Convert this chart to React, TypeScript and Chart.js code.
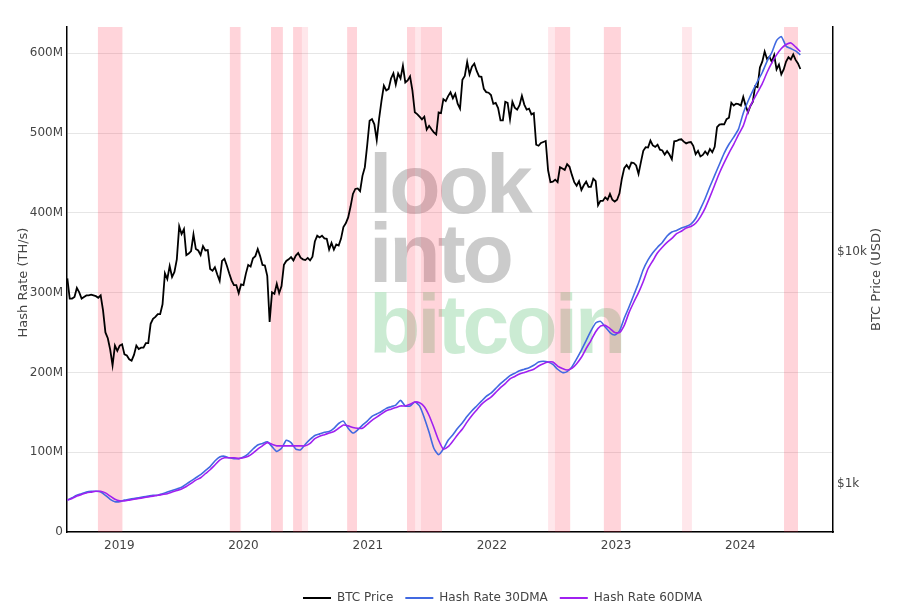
import { useEffect, useRef } from 'react';
import { Chart, registerables } from 'chart.js';

Chart.register(...registerables);

// ---------------- DATA ----------------
// BTC price (USD), weekly samples starting 2018-08-01
const priceSeriesStart = '2018-08-01';
const priceStepDays = 7;
const btcPrice: number[] = [
  // 2018 (Aug 1 .. Dec 26)
  7700, 6300, 6300, 6400, 7000, 6700, 6300, 6400, 6500, 6500, 6550, 6500, 6450, 6350, 6500, 5600, 4500, 4250, 3800, 3250, 3950, 3750,
  // 2019
  3950, 4000, 3620, 3580, 3450, 3400, 3600, 3950, 3820, 3870, 3870, 4050, 4050, 4900, 5150, 5250, 5400, 5400, 5950, 8100,
  7650, 8700, 7800, 8200, 9300, 12900, 11950, 12550, 9700, 9850, 10100, 11900, 10300, 10150, 9700, 10600, 10150, 10200, 8450, 8300,
  8600, 8000, 7500, 9150, 9350, 8750, 8100, 7550, 7200, 7200, 6650, 7250,
  // 2020
  7200, 8050, 8800, 8650, 9400, 9600, 10300, 9600, 8800, 8750, 7900, 5000, 6700, 6600, 7300, 6650, 7130, 8800, 9150, 9300,
  9500, 9200, 9650, 9900, 9450, 9300, 9230, 9430, 9200, 9540, 11100, 11750, 11550, 11750, 11450, 11400, 10250, 10950, 10250, 10780,
  10670, 11420, 12800, 13300, 14100, 15700, 17800, 18700, 18800, 18300, 21300, 23200, 28900,
  // 2021
  36800, 37400, 35500, 30400, 37600, 44800, 52100, 49700, 50500, 56000, 58900, 52700, 58800, 56000, 63500, 53800, 54900, 57200, 49600, 40000,
  39300, 38300, 37300, 38300, 33700, 35000, 33800, 32800, 32100, 40000, 39700, 45600, 44700, 47000, 48800, 46000, 48100, 43600, 41500, 55300,
  57400, 65900, 58400, 62900, 64900, 60300, 57100, 56900, 50500, 48900, 48600, 47500,
  // 2022
  43500, 43900, 41700, 36900, 36900, 44400, 43900, 37300, 44400, 41900, 41100, 42900, 47100, 43200, 41100, 41500, 39200, 39700, 29000, 28700,
  29500, 29800, 30100, 22500, 20000, 20100, 20500, 20000, 23200, 22900, 22600, 23900, 23300, 21500, 20000, 19300, 20200, 18500, 19400, 20100,
  19100, 19100, 20700, 20200, 15900, 16600, 16600, 17200, 16800, 17800, 16800, 16500,
  // 2023
  16800, 17900, 20700, 23000, 23700, 22900, 24300, 24200, 23600, 21700, 24400, 27300, 28300, 28200, 30200, 28800, 28400, 29000, 27600, 27400,
  26300, 27200, 26300, 25100, 30000, 30100, 30500, 30600, 29900, 29400, 29700, 29800, 28700, 26400, 27300, 25800, 26200, 27100, 26300, 27800,
  26900, 28400, 34500, 35400, 35600, 35500, 37400, 37900, 44000, 42800, 43600, 43400,
  // 2024 (Jan 3 .. Jun 26)
  42800, 46600, 42700, 40000, 42600, 44300, 51800, 51300, 62500, 66100, 73100, 67900, 69500, 66000, 70600, 61300, 64300, 58300, 61200, 66200,
  69100, 67600, 71100, 67300, 65000, 61500,
];

// Hash rate moving averages, in millions of TH/s, every 14 days from 2018-08-01
const hashSeriesStart = '2018-08-01';
const hashStepDays = 14;
const hashRate30DMA: number[] = [
  40, 43, 46, 48, 50, 51, 51, 50, 46, 41,
  38, 38, 40, 41, 42, 43, 44, 45, 46, 46,
  48, 50, 52, 54, 56, 60, 64, 68, 72, 77,
  82, 89, 94, 95, 93, 92, 92, 94, 98, 104,
  109, 111, 113, 107, 101, 105, 115, 112, 104, 103,
  110, 116, 121, 123, 125, 126, 130, 136, 139, 130,
  124, 128, 134, 139, 145, 148, 151, 155, 157, 159,
  165, 158, 158, 163, 158, 143, 125, 105, 97, 104,
  115, 122, 130, 137, 145, 152, 158, 164, 170, 174,
  180, 186, 191, 196, 199, 202, 204, 206, 209, 213,
  214, 213, 210, 204, 200, 201, 207, 217, 228, 240,
  252, 262, 264, 257, 250, 247, 252, 268, 282, 297,
  312, 329, 341, 350, 357, 363, 371, 376, 378, 381,
  383, 386, 393, 405, 418, 433, 447, 461, 475, 486,
  495, 505, 525, 540, 553, 565, 576, 590, 601, 616,
  621, 609, 606, 603, 598,
];
const hashRate60DMA: number[] = [
  40, 42, 45, 47, 49, 50, 51, 51, 49, 45,
  41, 39, 39, 40, 41, 42, 43, 44, 45, 46,
  47, 48, 50, 52, 54, 57, 61, 65, 68, 73,
  78, 84, 90, 93, 93, 93, 92, 93, 95, 99,
  104, 108, 112, 110, 108, 108, 108, 108, 108, 108,
  108, 111, 117, 120, 122, 124, 126, 130, 134, 133,
  131, 130, 130, 135, 140, 144, 148, 152, 154, 156,
  158, 158, 160, 163, 162, 157, 146, 131, 115, 104,
  107, 114, 122, 129, 138, 146, 153, 160, 165, 169,
  175, 181, 186, 192, 195, 198, 200, 202, 204, 208,
  211, 213, 213, 208, 205, 203, 205, 211, 219, 230,
  240, 251, 258, 259, 255, 250, 250, 259, 275, 288,
  300, 314, 330, 340, 350, 357, 363, 368, 374, 377,
  381, 383, 387, 395, 406, 420, 435, 450, 463, 475,
  486, 498, 509, 527, 540, 551, 562, 576, 588, 598,
  606, 611, 613, 608, 602,
];

// Miner capitulation periods (hash ribbon), darker and lighter shaded
const capitulationStart = ['2018-10-30', '2019-11-22', '2020-03-22', '2020-05-26', '2020-11-01', '2021-04-26', '2021-06-06', '2022-07-05', '2022-11-26', '2024-05-09'];
const capitulationEnd = ['2019-01-10', '2019-12-22', '2020-04-26', '2020-06-21', '2020-11-30', '2021-05-20', '2021-08-07', '2022-08-19', '2023-01-15', '2024-06-19'];
const partialStart = ['2019-12-22', '2020-06-21', '2021-05-20', '2022-06-15', '2023-07-14'];
const partialEnd = ['2019-12-25', '2020-07-09', '2021-06-06', '2022-07-05', '2023-08-12'];

const xRangeStart = '2018-07-31';
const xRangeEnd = '2024-09-30';
const yearTicks = [2019, 2020, 2021, 2022, 2023, 2024];
const hashTicks = [0, 100, 200, 300, 400, 500, 600];
const hashTickLabels = ['0', '100M', '200M', '300M', '400M', '500M', '600M'];
const hashMax = 633;
const priceTicks = [1000, 10000];
const priceTickLabels = ['$1k', '$10k'];
const priceMin = 621;
const priceMax = 93300;

const seriesLabels = ['BTC Price', 'Hash Rate 30DMA', 'Hash Rate 60DMA'];
const seriesColors = ['#000000', '#4169e1', '#a020f0'];
const watermarkLines = ['look', 'into', 'bitcoin'];

// ---------------- HELPERS ----------------
const DAY = 86400000;
const toTime = (s: string) => Date.parse(s + 'T00:00:00Z');
const FONT = '"DejaVu Sans", Verdana, sans-serif';
const TEXT = '#444';

const backdropPlugin = {
  id: 'backdrop',
  beforeDatasetsDraw(chart: any) {
    const { ctx, chartArea, scales } = chart;
    const { left, right, top, bottom } = chartArea;
    const xs = scales.x;
    ctx.save();
    ctx.beginPath();
    ctx.rect(left, top, right - left, bottom - top);
    ctx.clip();

    // watermark
    ctx.font = `bold 84px "Liberation Sans", Arial, sans-serif`;
    (ctx as any).letterSpacing = '-3px';
    ctx.textAlign = 'left';
    ctx.textBaseline = 'alphabetic';
    const baselines = [213, 282, 353];
    const wmColors = ['rgba(185,185,185,0.75)', 'rgba(185,185,185,0.75)', 'rgba(190,230,200,0.8)'];
    watermarkLines.forEach((w, i) => {
      ctx.fillStyle = wmColors[i];
      ctx.fillText(w, 369, baselines[i]);
    });
    (ctx as any).letterSpacing = '0px';

    // capitulation bands
    ctx.fillStyle = 'rgba(255, 40, 70, 0.2)';
    capitulationStart.forEach((s, i) => {
      const x0 = xs.getPixelForValue(toTime(s));
      const x1 = xs.getPixelForValue(toTime(capitulationEnd[i]));
      ctx.fillRect(x0, top, x1 - x0, bottom - top);
    });
    ctx.fillStyle = 'rgba(255, 40, 70, 0.11)';
    partialStart.forEach((s, i) => {
      const x0 = xs.getPixelForValue(toTime(s));
      const x1 = xs.getPixelForValue(toTime(partialEnd[i]));
      ctx.fillRect(x0, top, x1 - x0, bottom - top);
    });
    ctx.restore();
  },
  afterDraw(chart: any) {
    const { ctx, chartArea } = chart;
    const midY = (chartArea.top + chartArea.bottom) / 2;
    ctx.save();
    ctx.fillStyle = TEXT;
    ctx.font = `13px ${FONT}`;
    ctx.textAlign = 'center';
    ctx.textBaseline = 'middle';
    // left title
    ctx.save();
    ctx.translate(24, midY + 3);
    ctx.rotate(-Math.PI / 2);
    ctx.fillText('Hash Rate (TH/s)', 0, 0);
    ctx.restore();
    // right title
    ctx.save();
    ctx.translate(877, midY);
    ctx.rotate(-Math.PI / 2);
    ctx.fillText('BTC Price (USD)', 0, 0);
    ctx.restore();

    // legend
    ctx.font = `12px ${FONT}`;
    ctx.textAlign = 'left';
    let x = 303;
    const y = 598;
    seriesLabels.forEach((lab, i) => {
      ctx.strokeStyle = seriesColors[i];
      ctx.lineWidth = 2;
      ctx.beginPath();
      ctx.moveTo(x, y);
      ctx.lineTo(x + 28, y);
      ctx.stroke();
      ctx.fillStyle = TEXT;
      ctx.fillText(lab, x + 34, y);
      x += 34 + ctx.measureText(lab).width + 12;
    });
    ctx.restore();
  },
};

export default function App() {
  const ref = useRef<HTMLCanvasElement>(null);
  useEffect(() => {
    const canvas = ref.current!;
    const pStart = toTime(priceSeriesStart);
    const hStart = toTime(hashSeriesStart);
    const priceData = btcPrice.map((v, i) => ({ x: pStart + i * priceStepDays * DAY, y: v }));
    const h30 = hashRate30DMA.map((v, i) => ({ x: hStart + i * hashStepDays * DAY, y: v }));
    const h60 = hashRate60DMA.map((v, i) => ({ x: hStart + i * hashStepDays * DAY, y: v }));

    const tickFont = { family: FONT, size: 12 };

    const chart = new Chart(canvas, {
      type: 'line',
      data: {
        datasets: [
          { label: seriesLabels[0], data: priceData, yAxisID: 'yPrice', borderColor: seriesColors[0], borderWidth: 1.8, pointRadius: 0, tension: 0, order: 3 },
          { label: seriesLabels[1], data: h30, yAxisID: 'yHash', borderColor: seriesColors[1], borderWidth: 1.6, pointRadius: 0, tension: 0.2, order: 2 },
          { label: seriesLabels[2], data: h60, yAxisID: 'yHash', borderColor: seriesColors[2], borderWidth: 1.6, pointRadius: 0, tension: 0.2, order: 1 },
        ],
      },
      options: {
        animation: false,
        responsive: false,
        events: [],
        layout: { padding: { top: 27, left: 0, right: 0, bottom: 0 } },
        plugins: { legend: { display: false }, tooltip: { enabled: false } },
        scales: {
          x: {
            type: 'linear',
            min: toTime(xRangeStart),
            max: toTime(xRangeEnd),
            afterBuildTicks: (s: any) => { s.ticks = yearTicks.map((y) => ({ value: Date.UTC(y, 0, 1) })); },
            afterFit: (s: any) => { s.height = 80; },
            grid: { display: false, drawTicks: false },
            border: { display: true, color: '#000', width: 1.5 },
            ticks: {
              autoSkip: false, maxRotation: 0, padding: 7, color: TEXT, font: tickFont,
              callback: (v: any) => String(new Date(v).getUTCFullYear()),
            },
          },
          yHash: {
            type: 'linear',
            position: 'left',
            min: 0,
            max: hashMax,
            afterBuildTicks: (s: any) => { s.ticks = hashTicks.map((v) => ({ value: v })); },
            afterFit: (s: any) => { s.width = 67; },
            grid: { color: '#e6e6e6', lineWidth: 1, drawTicks: false },
            border: { display: true, color: '#000', width: 1.5 },
            ticks: {
              padding: 4, color: TEXT, font: tickFont,
              callback: (v: any) => hashTickLabels[hashTicks.indexOf(v)] ?? '',
            },
          },
          yPrice: {
            type: 'logarithmic',
            position: 'right',
            min: priceMin,
            max: priceMax,
            afterBuildTicks: (s: any) => { s.ticks = priceTicks.map((v) => ({ value: v })); },
            afterFit: (s: any) => { s.width = 67; },
            grid: { display: false, drawTicks: false },
            border: { display: true, color: '#000', width: 1.5 },
            ticks: {
              padding: 4, color: TEXT, font: tickFont,
              callback: (v: any) => priceTickLabels[priceTicks.indexOf(v)] ?? '',
            },
          },
        },
      } as any,
      plugins: [backdropPlugin],
    });
    return () => chart.destroy();
  }, []);

  return (
    <div style={{ position: 'absolute', left: 0, top: 0, width: 900, height: 612, background: '#fff' }}>
      <canvas ref={ref} width={900} height={612} style={{ display: 'block' }} />
    </div>
  );
}
